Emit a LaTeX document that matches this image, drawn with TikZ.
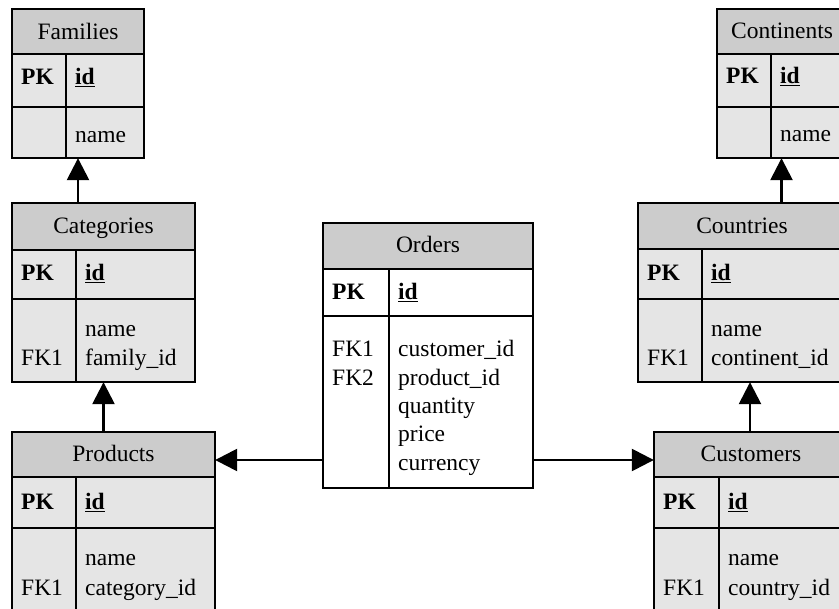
\documentclass[tikz,border=0pt]{standalone}
\usepackage{fontspec}
\setmainfont{Liberation Serif}
\usetikzlibrary{arrows.meta,calc,fit}

\definecolor{headgray}{gray}{0.80}
\definecolor{bodygray}{gray}{0.90}
\newcommand\tabfont{\fontsize{23.5}{28.3}\selectfont}

% #1 name, #2 left, #3 top, #4 right, #5 column divider,
% #6 header bottom, #7 key row bottom, #8 bottom, #9 body fill
\newcommand\erdtable[9]{%
  \path[fill=#9] (#2,#3) rectangle (#4,#8);
  \fill[headgray] (#2,#3) rectangle (#4,#6);
  \draw[rule] (#2,#6) -- (#4,#6) (#2,#7) -- (#4,#7) (#5,#6) -- (#5,#8);
  \draw[rule] (#2,#3) rectangle (#4,#8);
  \node[fit={(#2,#3) (#4,#8)}, inner sep=0pt] (#1) {};
}

\tikzset{
  rule/.style={line width=1.4pt, black},
  title/.style={anchor=base, inner sep=0pt, font=\tabfont},
  cell/.style={anchor=base west, inner sep=0pt, font=\tabfont},
  fk/.style={line width=2.6pt, -{Triangle[length=22pt,width=22pt]}},
}

\begin{document}
\begin{tikzpicture}[x=1pt, y=-1pt]
\useasboundingbox (0,0) rectangle (839,609);
\clip (0,0) rectangle (839,609);
\fill[white] (0,0) rectangle (839,609);

% tables
\erdtable{fam}{12}{9}{144}{66}{54}{107}{158}{bodygray}
\erdtable{cat}{12}{203}{195}{76}{250}{299}{382}{bodygray}
\erdtable{prod}{12}{432}{215}{76}{477}{528}{612}{bodygray}
\erdtable{ord}{323}{223}{533}{389}{269}{316}{488}{white}
\erdtable{cont}{717}{9}{847}{771}{54}{107}{158}{bodygray}
\erdtable{ctry}{638}{203}{846}{702}{249}{299}{382}{bodygray}
\erdtable{cust}{654}{432}{848}{719}{477}{528}{612}{bodygray}

% Families
\node[title] (fam-t) at (78,40) {Families};
\node[cell] (fam-pk) at (21,85) {\textbf{PK}};
\node[cell] (fam-id) at (75,85) {\underline{\textbf{id}}};
\node[cell] (fam-f1) at (75,143) {name};

% Categories
\node[title] (cat-t) at (103.5,234) {Categories};
\node[cell] (cat-pk) at (21,281) {\textbf{PK}};
\node[cell] (cat-id) at (85,281) {\underline{\textbf{id}}};
\node[cell] (cat-f1) at (85,337) {name};
\node[cell] (cat-f2) at (85,366) {family\_id};
\node[cell] (cat-k2) at (21,366) {FK1};

% Products
\node[title] (prod-t) at (113.5,462) {Products};
\node[cell] (prod-pk) at (21,510) {\textbf{PK}};
\node[cell] (prod-id) at (85,510) {\underline{\textbf{id}}};
\node[cell] (prod-f1) at (85,566) {name};
\node[cell] (prod-f2) at (85,596) {category\_id};
\node[cell] (prod-k2) at (21,596) {FK1};

% Orders
\node[title] (ord-t) at (428,253) {Orders};
\node[cell] (ord-pk) at (332,300) {\textbf{PK}};
\node[cell] (ord-id) at (398,300) {\underline{\textbf{id}}};
\node[cell] (ord-k1) at (332,357) {FK1};
\node[cell] (ord-k2) at (332,385.3) {FK2};
\node[cell] (ord-f1) at (398,357) {customer\_id};
\node[cell] (ord-f2) at (398,385.3) {product\_id};
\node[cell] (ord-f3) at (398,413.6) {quantity};
\node[cell] (ord-f4) at (398,441.9) {price};
\node[cell] (ord-f5) at (398,470.2) {currency};

% Continents
\node[title] (cont-t) at (782,39) {Continents};
\node[cell] (cont-pk) at (726,84) {\textbf{PK}};
\node[cell] (cont-id) at (780,84) {\underline{\textbf{id}}};
\node[cell] (cont-f1) at (780,142) {name};

% Countries
\node[title] (ctry-t) at (742,234) {Countries};
\node[cell] (ctry-pk) at (647,281) {\textbf{PK}};
\node[cell] (ctry-id) at (711,281) {\underline{\textbf{id}}};
\node[cell] (ctry-f1) at (711,337) {name};
\node[cell] (ctry-f2) at (711,366) {continent\_id};
\node[cell] (ctry-k2) at (647,366) {FK1};

% Customers
\node[title] (cust-t) at (751,462) {Customers};
\node[cell] (cust-pk) at (663,510) {\textbf{PK}};
\node[cell] (cust-id) at (728,510) {\underline{\textbf{id}}};
\node[cell] (cust-f1) at (728,566) {name};
\node[cell] (cust-f2) at (728,596) {country\_id};
\node[cell] (cust-k2) at (663,596) {FK1};

% foreign-key connectors, each centred on the overlap of its two tables
\coordinate (c1) at ($(cat.north west)!0.5!(fam.south east)$);
\coordinate (c2) at ($(prod.north west)!0.5!(cat.south east)$);
\coordinate (c3) at ($(cont.south west)!0.5!(ctry.north east)$);
\coordinate (c4) at ($(cust.north west)!0.5!(ctry.south east)$);
\coordinate (c5) at ($(prod.north east)!0.5!(ord.south west)$);

\draw[fk] (cat.north -| c1) -- (fam.south -| c1);
\draw[fk] (prod.north -| c2) -- (cat.south -| c2);
\draw[fk] (ctry.north -| c3) -- (cont.south -| c3);
\draw[fk] (cust.north -| c4) -- (ctry.south -| c4);
\draw[fk] (ord.west |- c5) -- (prod.east |- c5);
\draw[fk] (ord.east |- c5) -- (cust.west |- c5);
\end{tikzpicture}
\end{document}
